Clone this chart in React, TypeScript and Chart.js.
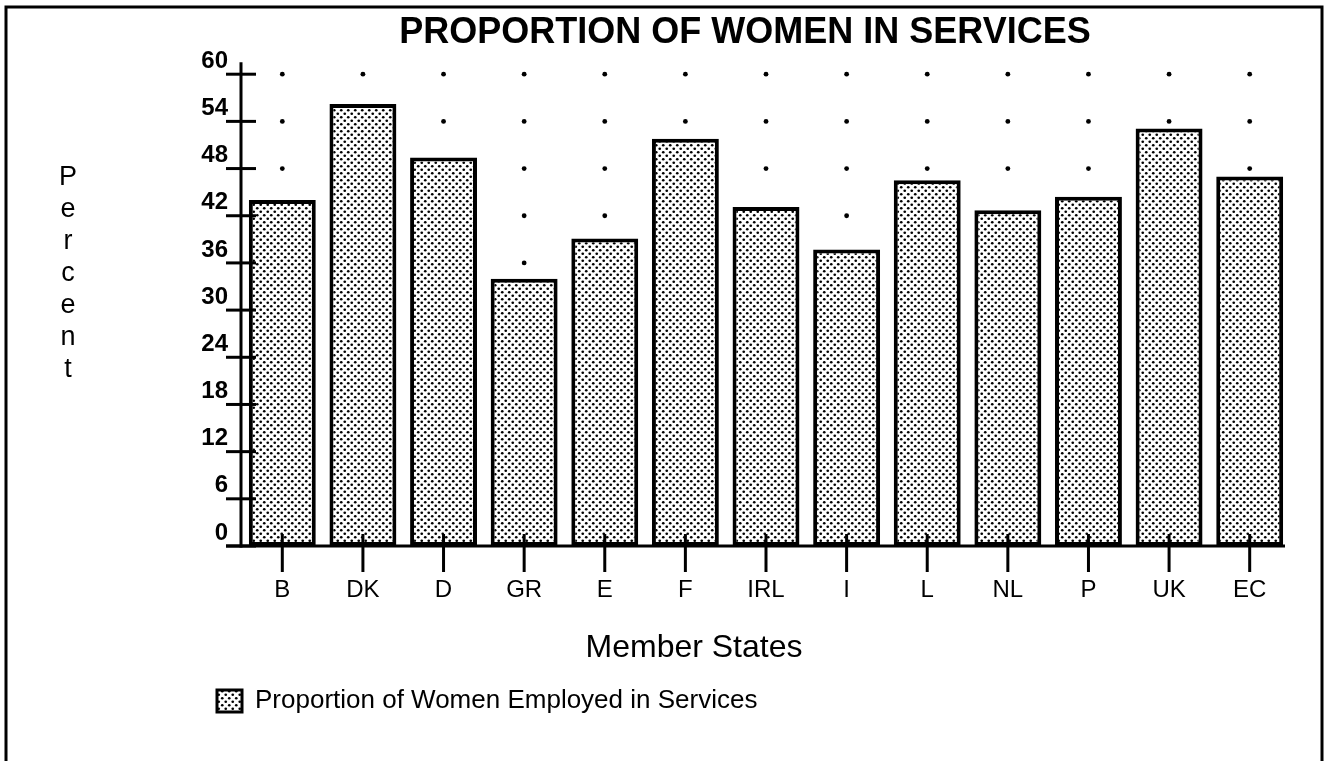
import { useEffect, useRef } from 'react';
import { Chart, registerables } from 'chart.js';

Chart.register(...registerables);

const categories = ['B', 'DK', 'D', 'GR', 'E', 'F', 'IRL', 'I', 'L', 'NL', 'P', 'UK', 'EC'];
const womenInServices = [44, 56.2, 49.4, 34, 39.1, 51.8, 43.1, 37.7, 46.5, 42.7, 44.4, 53.1, 47];
const yTickValues = [0, 6, 12, 18, 24, 30, 36, 42, 48, 54, 60];
const chartTitle = 'PROPORTION OF WOMEN IN SERVICES';
const xAxisTitle = 'Member States';
const yAxisTitle = 'Percent';
const seriesLabel = 'Proportion of Women Employed in Services';

const FONT = "'Liberation Sans', Arial, Helvetica, sans-serif";

function makeDotPattern(ctx: CanvasRenderingContext2D) {
  const tile = document.createElement('canvas');
  tile.width = 7;
  tile.height = 7;
  const t = tile.getContext('2d')!;
  t.fillStyle = '#fff';
  t.fillRect(0, 0, 7, 7);
  t.fillStyle = '#000';
  [[1.75, 1.75], [5.25, 5.25]].forEach(([x, y]) => {
    t.beginPath();
    t.arc(x, y, 1.35, 0, Math.PI * 2);
    t.fill();
  });
  return ctx.createPattern(tile, 'repeat')!;
}

const framePlugin = {
  id: 'frame',
  beforeDraw(chart: any) {
    const { ctx, width, height } = chart;
    ctx.save();
    ctx.fillStyle = '#fff';
    ctx.fillRect(0, 0, width, height);
    ctx.strokeStyle = '#000';
    ctx.lineWidth = 3;
    ctx.strokeRect(6, 7, width - 13, height + 40);
    ctx.restore();
  },
};

const dotGridPlugin = {
  id: 'dotGrid',
  beforeDatasetsDraw(chart: any) {
    const { ctx, scales } = chart;
    const x = scales.x;
    const y = scales.y;
    ctx.save();
    ctx.fillStyle = '#000';
    yTickValues.forEach((v) => {
      if (v === 0) return;
      const py = y.getPixelForValue(v);
      categories.forEach((_, i) => {
        const px = x.getPixelForValue(i);
        ctx.beginPath();
        ctx.arc(px, py, 2.4, 0, Math.PI * 2);
        ctx.fill();
      });
    });
    ctx.restore();
  },
};

const axisMarksPlugin = {
  id: 'axisMarks',
  afterDatasetsDraw(chart: any) {
    const { ctx, chartArea, scales } = chart;
    const x = scales.x;
    const y = scales.y;
    ctx.save();
    ctx.strokeStyle = '#000';
    ctx.lineWidth = 3;
    const ax = chartArea.left - 1;
    ctx.beginPath();
    ctx.moveTo(ax, chartArea.top - 12);
    ctx.lineTo(ax, chartArea.bottom + 1.5);
    ctx.stroke();
    ctx.beginPath();
    ctx.moveTo(ax - 15, chartArea.bottom);
    ctx.lineTo(chartArea.right - 5, chartArea.bottom);
    ctx.stroke();
    yTickValues.forEach((v) => {
      const py = y.getPixelForValue(v);
      ctx.beginPath();
      ctx.moveTo(ax - 15, py);
      ctx.lineTo(ax + 15, py);
      ctx.stroke();
    });
    categories.forEach((_, i) => {
      const px = x.getPixelForValue(i);
      ctx.beginPath();
      ctx.moveTo(px, chartArea.bottom - 12);
      ctx.lineTo(px, chartArea.bottom + 26);
      ctx.stroke();
    });
    ctx.restore();
  },
};

const axisTitlesPlugin = {
  id: 'axisTitles',
  afterDraw(chart: any) {
    const { ctx } = chart;
    ctx.save();
    ctx.fillStyle = '#000';
    ctx.font = `32px ${FONT}`;
    ctx.textAlign = 'center';
    ctx.textBaseline = 'middle';
    ctx.fillText(xAxisTitle, 694, 648);
    ctx.font = `27px ${FONT}`;
    ctx.textBaseline = 'alphabetic';
    yAxisTitle.split('').forEach((ch, i) => {
      ctx.fillText(ch, 68, 185 + i * 32);
    });
    ctx.restore();
  },
};

export default function App() {
  const ref = useRef<HTMLCanvasElement>(null);

  useEffect(() => {
    const canvas = ref.current!;
    const ctx = canvas.getContext('2d')!;
    const pattern = makeDotPattern(ctx);
    const chart = new Chart(canvas, {
      type: 'bar',
      data: {
        labels: categories,
        datasets: [
          {
            label: seriesLabel,
            data: womenInServices,
            backgroundColor: pattern,
            borderColor: '#000',
            borderWidth: 4,
            borderSkipped: false,
            barPercentage: 0.83,
            categoryPercentage: 1,
          },
        ],
      },
      options: {
        responsive: false,
        animation: false,
        layout: { padding: { left: 200, right: 39, top: 11, bottom: 37 } },
        scales: {
          x: {
            grid: { display: false, drawTicks: false },
            border: { display: false },
            ticks: { color: '#000', font: { family: FONT, size: 24 }, padding: 30 },
            afterFit(s: any) {
              s.height = 125;
            },
          },
          y: {
            min: 0,
            max: 60,
            afterBuildTicks(s: any) {
              s.ticks = yTickValues.map((v) => ({ value: v }));
            },
            grid: { display: false, drawTicks: false },
            border: { display: false },
            ticks: {
              color: '#000',
              font: { family: FONT, size: 24, weight: 'bold' },
              padding: 14,
              labelOffset: -13,
              autoSkip: false,
            },
            afterFit(s: any) {
              s.width = 42;
            },
          },
        },
        plugins: {
          title: {
            display: true,
            text: chartTitle,
            color: '#000',
            font: { family: FONT, size: 36, weight: 'bold' },
            padding: { top: 0, bottom: 20 },
          },
          legend: {
            display: true,
            position: 'bottom',
            align: 'start',
            labels: {
              color: '#000',
              font: { family: FONT, size: 26 },
              boxWidth: 25,
              boxHeight: 22,
              padding: 17,
              generateLabels(c: any) {
                return (Chart as any).defaults.plugins.legend.labels
                  .generateLabels(c)
                  .map((l: any) => ({ ...l, lineWidth: 3 }));
              },
            },
          },
          tooltip: { enabled: false },
        },
      },
      plugins: [framePlugin, dotGridPlugin, axisMarksPlugin, axisTitlesPlugin],
    } as any);
    return () => chart.destroy();
  }, []);

  return (
    <div style={{ position: 'fixed', left: 0, top: 0, width: 1329, height: 761, background: '#fff' }}>
      <canvas ref={ref} width={1329} height={761} />
    </div>
  );
}
